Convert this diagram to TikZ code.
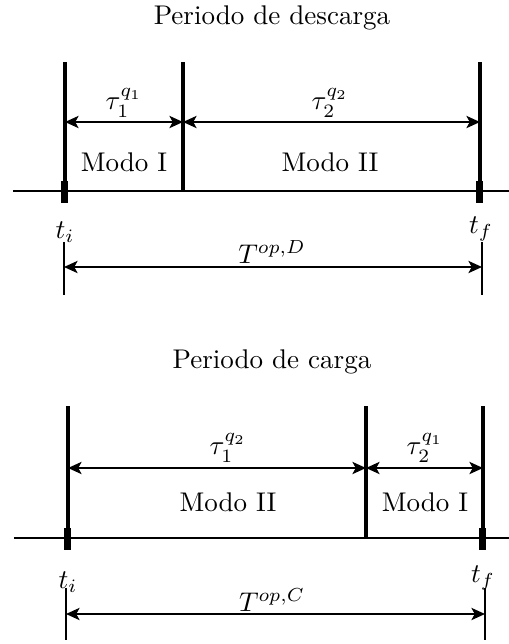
\documentclass[tikz,border=0pt]{standalone}
\usetikzlibrary{arrows.meta}
\begin{document}
\begin{tikzpicture}[x=0.37pt,y=-0.37pt,
  bar/.style={line width=1.5pt},
  axisline/.style={line width=1.1pt},
  thinline/.style={line width=0.4pt},
  dim/.style={line width=0.8pt,{Stealth[length=5pt,width=4.5pt,inset=1.2pt]}-{Stealth[length=5pt,width=4.5pt,inset=1.2pt]}},
  tick/.style={fill=black},
  lbl/.style={inner sep=0pt,font=\normalsize}]
\useasboundingbox (0,0) rectangle (509,644);
% ---------- top: descarga ----------
\node[lbl] (title1) at (272,18) {Periodo de descarga};
\coordinate (a0) at (13,191);
\coordinate (a1) at (509,191);
\draw[axisline] (a0) -- (a1);
\coordinate (v1t) at (65,62);  \coordinate (v1b) at (65,191);
\coordinate (v2t) at (183,62); \coordinate (v2b) at (183,191);
\coordinate (v3t) at (480,62); \coordinate (v3b) at (480,191);
\draw[bar] (v1t) -- (v1b);
\draw[bar] (v2t) -- (v2b);
\draw[bar] (v3t) -- (v3b);
\fill[tick] (61.5,181) rectangle (68.5,203);
\fill[tick] (476.5,181) rectangle (483.5,203);
\coordinate (p1) at (65,122); \coordinate (p2) at (183,122); \coordinate (p3) at (480,122);
\draw[dim] (p1) -- (p2);
\draw[dim] (p2) -- (p3);
\node[lbl] (tau11) at (124,103) {$\tau_1^{q_1}$};
\node[lbl] (tau22) at (330,103) {$\tau_2^{q_2}$};
\node[lbl] (modoI1) at (124,162) {Modo I};
\node[lbl] (modoII1) at (330,162) {Modo II};
\node[lbl] (ti1) at (65,232) {$t_i$};
\node[lbl] (tf1) at (481,229) {$t_f$};
\coordinate (l1t) at (64,242); \coordinate (l1b) at (64,295);
\coordinate (r1t) at (482,242); \coordinate (r1b) at (482,295);
\draw[thinline] (l1t) -- (l1b);
\draw[thinline] (r1t) -- (r1b);
\coordinate (T1a) at (64,267); \coordinate (T1b) at (482,267);
\draw[dim] (T1a) -- (T1b);
\node[lbl] (TD) at (272,252) {$T^{op,D}$};
% ---------- bottom: carga ----------
\node[lbl] (title2) at (272,362) {Periodo de carga};
\coordinate (b0) at (14,538);
\coordinate (b1) at (509,538);
\draw[axisline] (b0) -- (b1);
\coordinate (w1t) at (68,406);  \coordinate (w1b) at (68,538);
\coordinate (w2t) at (366,406); \coordinate (w2b) at (366,538);
\coordinate (w3t) at (483,406); \coordinate (w3b) at (483,538);
\draw[bar] (w1t) -- (w1b);
\draw[bar] (w2t) -- (w2b);
\draw[bar] (w3t) -- (w3b);
\fill[tick] (64.5,528) rectangle (71.5,550);
\fill[tick] (479.5,528) rectangle (486.5,550);
\coordinate (q1) at (68,468); \coordinate (q2) at (366,468); \coordinate (q3) at (483,468);
\draw[dim] (q1) -- (q2);
\draw[dim] (q2) -- (q3);
\node[lbl] (tau12) at (228,448) {$\tau_1^{q_2}$};
\node[lbl] (tau21) at (425,448) {$\tau_2^{q_1}$};
\node[lbl] (modoII2) at (228,502) {Modo II};
\node[lbl] (modoI2) at (425,502) {Modo I};
\node[lbl] (ti2) at (68,582) {$t_i$};
\node[lbl] (tf2) at (483,578) {$t_f$};
\coordinate (l2t) at (66,588); \coordinate (l2b) at (66,640);
\coordinate (r2t) at (485,588); \coordinate (r2b) at (485,640);
\draw[thinline] (l2t) -- (l2b);
\draw[thinline] (r2t) -- (r2b);
\coordinate (T2a) at (66,614); \coordinate (T2b) at (485,614);
\draw[dim] (T2a) -- (T2b);
\node[lbl] (TC) at (272,600) {$T^{op,C}$};
\end{tikzpicture}
\end{document}
